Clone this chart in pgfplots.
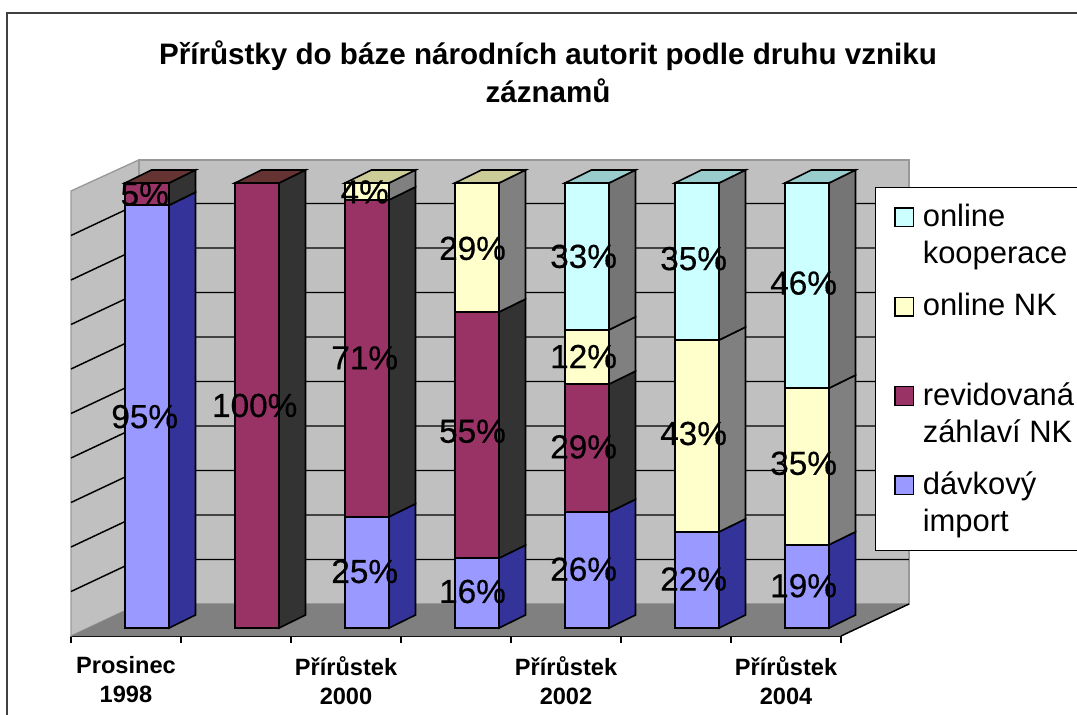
\documentclass[border=0pt]{standalone}
\usepackage{pgfplots}
\usepackage{pgfplotstable}
\usepackage{fontspec}
\pgfplotsset{compat=1.18}
\setmainfont{Liberation Sans}
\newfontface\lblfont{Liberation Sans}[FakeBold=0.4]

\definecolor{wall}{HTML}{C0C0C0}
\definecolor{wallline}{HTML}{999999}
\definecolor{floorc}{HTML}{808080}
\definecolor{frame}{HTML}{404040}
\definecolor{impF}{HTML}{9999FF}
\definecolor{impS}{HTML}{333399}
\definecolor{revF}{HTML}{993366}
\definecolor{revS}{HTML}{333333}
\definecolor{revT}{HTML}{663333}
\definecolor{nkF}{HTML}{FFFFCC}
\definecolor{nkS}{HTML}{808080}
\definecolor{nkT}{HTML}{CCCC99}
\definecolor{okF}{HTML}{CCFFFF}
\definecolor{okS}{HTML}{757575}
\definecolor{okT}{HTML}{99CCCC}

% x = bar centre on the axis (bars stand in from the front edge)
\pgfplotstableread{
x    imp  rev  nk   ok
1.19 95   5    0    0
2.19 0    100  0    0
3.19 25   71.2 3.8  0
4.19 15.7 55.3 29   0
5.19 26   28.8 12.2 33
6.19 21.6 0    43.1 35.3
7.19 18.7 0    35.2 46.1
}\podily

% same geometry for all axes: 1 px = 0.75 pt
\pgfplotsset{same box/.style={
    scale only axis, width=577.5pt, height=333.75pt,
    xmin=0.5, xmax=7.5, ymin=-1.8, ymax=98.2, clip=false}}

% side face of one segment, k = category
\newcommand\sideface[4]{%
  \pgfmathsetmacro\xa{#1+0.391}%
  \pgfmathsetmacro\xb{#1+0.632}%
  \pgfmathsetmacro\yc{#2+2.92}%
  \pgfmathsetmacro\yd{#3+2.92}%
  \addplot[fill=#4, draw=black, line width=1.2pt] coordinates {(\xa,#2) (\xb,\yc) (\xb,\yd) (\xa,#3)} -- cycle;}
\newcommand\topface[2]{%
  \pgfmathsetmacro\xa{#1-0.009}%
  \pgfmathsetmacro\xb{#1+0.391}%
  \pgfmathsetmacro\xc{#1+0.632}%
  \pgfmathsetmacro\xd{#1+0.232}%
  \addplot[fill=#2, draw=black, line width=1.2pt] coordinates {(\xa,100) (\xb,100) (\xc,102.92) (\xd,102.92)} -- cycle;}
\newcommand\wallline[1]{%
  \pgfmathsetmacro\ya{#1-1.8}%
  \pgfmathsetmacro\yb{#1+5.39}%
  \addplot[black, line width=1.1pt] coordinates {(0.5,\ya) (1.118,\yb) (8.118,\yb)};}

\begin{document}
\begin{tikzpicture}
\useasboundingbox (-53.25pt,-58.5pt) rectangle (754.5pt,477pt);
\draw[frame, line width=1.6pt] (-48pt,-70pt) -- (-48pt,467.25pt) -- (770pt,467.25pt);

\begin{axis}[same box,
    axis x line=bottom, axis y line=none,
    axis line style={-, black, line width=1.3pt},
    xtick={0.5,1.5,2.5,3.5,4.5,5.5,6.5,7.5}, xticklabels={},
    tick align=outside, major tick length=5.25pt,
    tick style={black, line width=1.1pt},
    extra x ticks={1,3,5,7},
    extra x tick labels={{Prosinec\\1998},{Přírůstek\\2000},{Přírůstek\\2002},{Přírůstek\\2004}},
    extra x tick style={major tick length=0pt, tick style={draw=none},
        xticklabel style={align=center, xshift=0pt, yshift=-11.8pt,
            font=\fontsize{17.7}{21.5}\selectfont\bfseries}},
    title={Přírůstky do báze národních autorit podle druhu vzniku\\záznamů},
    title style={at={(0.6195,1.25)}, anchor=center, align=center,
        font=\fontsize{22.2}{28.5}\selectfont\bfseries},
]
% walls and floor
\addplot[fill=wall, draw=wallline, line width=1pt] coordinates {(0.5,-1.8) (1.118,5.39) (1.118,105.2) (0.5,98.2)} -- cycle;
\addplot[fill=wall, draw=wallline, line width=1pt] coordinates {(1.118,5.39) (8.118,5.39) (8.118,105.2) (1.118,105.2)} -- cycle;
\addplot[fill=floorc, draw=none] coordinates {(0.5,-1.8) (7.5,-1.8) (8.118,5.39) (1.118,5.39)} -- cycle;
\addplot[black, line width=1.1pt] coordinates {(7.5,-1.8) (8.118,5.39)};
\wallline{10}\wallline{20}\wallline{30}\wallline{40}\wallline{50}
\wallline{60}\wallline{70}\wallline{80}\wallline{90}
% sides and tops of the columns
\sideface{1}{0}{95}{impS}\sideface{1}{95}{100}{revS}\topface{1}{revT}
\sideface{2}{0}{100}{revS}\topface{2}{revT}
\sideface{3}{0}{25}{impS}\sideface{3}{25}{96.2}{revS}\sideface{3}{96.2}{100}{nkS}\topface{3}{nkT}
\sideface{4}{0}{15.7}{impS}\sideface{4}{15.7}{71}{revS}\sideface{4}{71}{100}{nkS}\topface{4}{nkT}
\sideface{5}{0}{26}{impS}\sideface{5}{26}{54.8}{revS}\sideface{5}{54.8}{67}{nkS}\sideface{5}{67}{100}{okS}\topface{5}{okT}
\sideface{6}{0}{21.6}{impS}\sideface{6}{21.6}{64.7}{nkS}\sideface{6}{64.7}{100}{okS}\topface{6}{okT}
\sideface{7}{0}{18.7}{impS}\sideface{7}{18.7}{53.9}{nkS}\sideface{7}{53.9}{100}{okS}\topface{7}{okT}
\end{axis}

\begin{axis}[same box, hide axis,
    ybar stacked, bar width=0.4,
    reverse legend,
    legend image code/.code={\draw[#1, draw=black, line width=1.1pt] (0pt,0pt) rectangle (14pt,14pt);},
    legend style={at={(1.044,1.009)}, anchor=north west, draw=black, line width=1.1pt,
        fill=white, inner xsep=14pt, inner ysep=3.8pt, row sep=7.5pt,
        nodes={text depth=}, cells={anchor=base west},
        /tikz/column 1/.style={column sep=4.3pt},
        font=\fontsize{23.2}{27.75}\selectfont},
]
\addplot[fill=impF, draw=black, line width=1.2pt] table[y=imp] {\podily};
\addplot[fill=revF, draw=black, line width=1.2pt] table[y=rev] {\podily};
\addplot[fill=nkF, draw=black, line width=1.2pt] table[y=nk] {\podily};
\addplot[fill=okF, draw=black, line width=1.2pt] table[y=ok] {\podily};
\legend{{\begin{tabular}[t]{@{}l@{}}dávkový\\import\end{tabular}},
        {\begin{tabular}[t]{@{}l@{}}revidovaná\\záhlaví NK\end{tabular}},
        {\begin{tabular}[t]{@{}l@{}}online NK\\~\end{tabular}},
        {\begin{tabular}[t]{@{}l@{}}\rule{0pt}{23.4pt}online\\kooperace\end{tabular}}}
\end{axis}

% data labels: x, middle of the segment, value
\begin{axis}[same box, hide axis,
    nodes near coords={\pgfmathprintnumber[assume math mode=true]{\pgfplotspointmeta}\%},
    nodes near coords style={anchor=center, font=\lblfont\fontsize{25}{25}\selectfont},
]
\addplot[draw=none, mark=none, point meta=explicit] table[meta=v] {
x    y     v
1.17 47.5  95
1.17 97.5  5
2.17 50    100
3.17 12.7  25
3.17 60.7  71
3.17 98    4
4.15 8.2   16
4.15 44.2  55
4.15 85.3  29
5.16 13.2  26
5.16 40.7  29
5.16 61    12
5.16 83.5  33
6.16 11    22
6.16 43.7  43
6.16 83    35
7.16 9.5   19
7.16 37    35
7.16 77.5  46
};
\end{axis}
\end{tikzpicture}
\end{document}
